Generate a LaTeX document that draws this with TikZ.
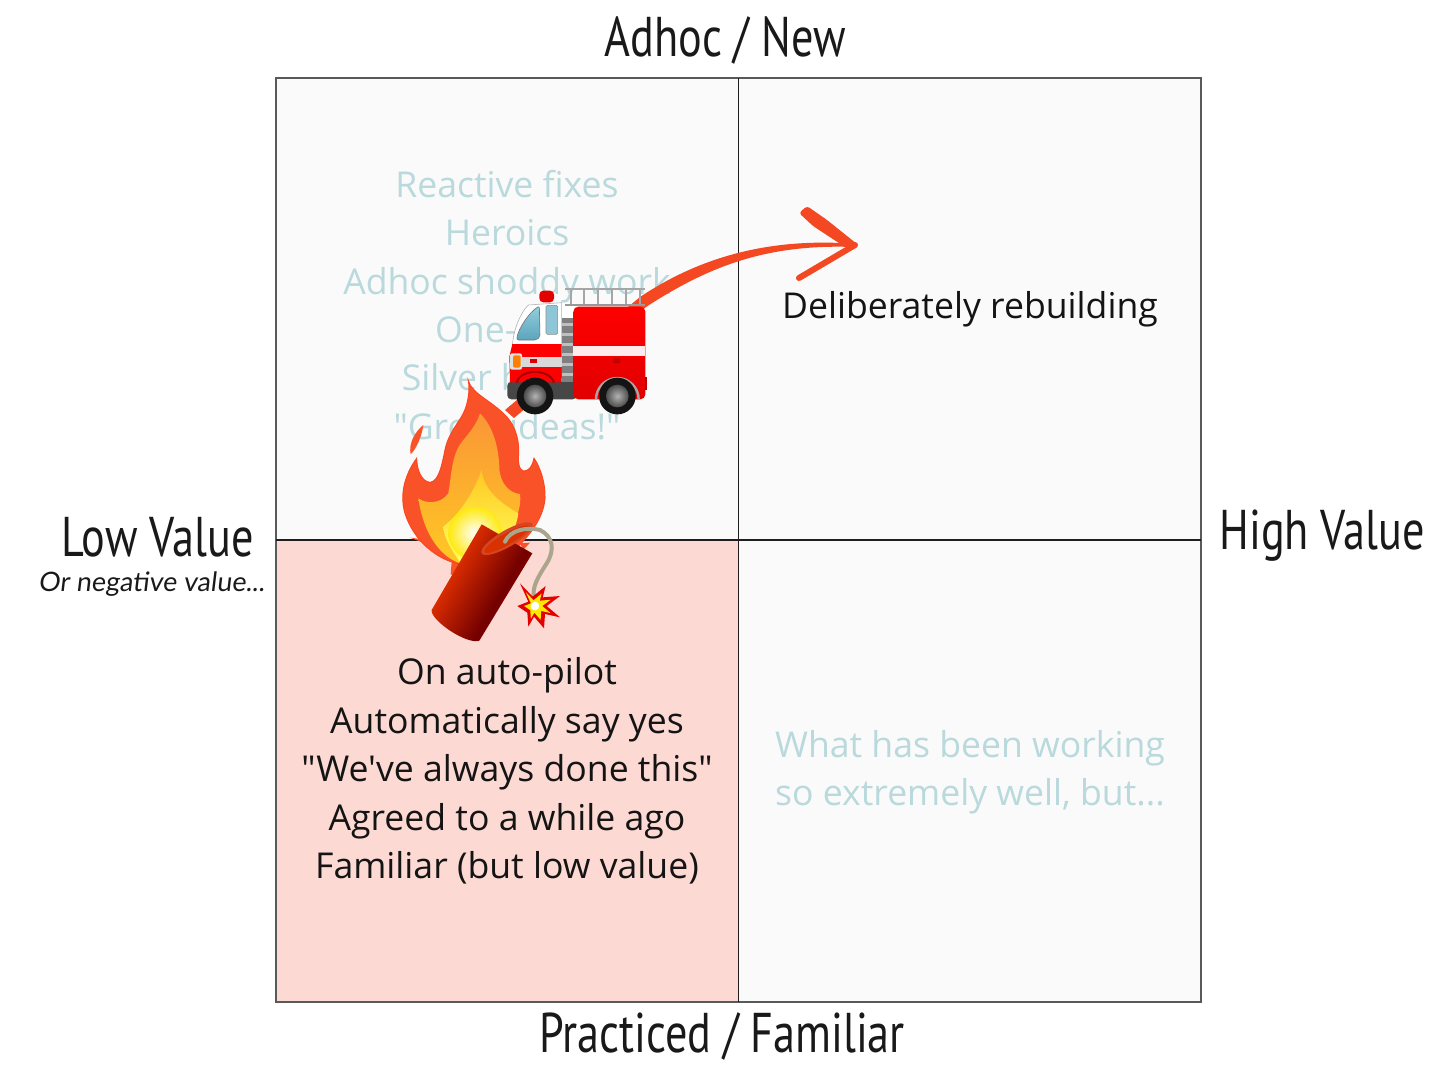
\documentclass[tikz,border=0pt]{standalone}
\usepackage{fontspec}
\usepackage{xcolor}
\setmainfont[Ligatures=TeXOff]{Open Sans}
\newfontfamily\headfont[FakeStretch=0.79]{PT Sans}
\newfontfamily\handfont[FakeSlant=0.12]{Lato}
\definecolor{quadgrey}{RGB}{250,250,250}
\definecolor{quadred}{RGB}{253,217,211}
\definecolor{fadedtext}{RGB}{185,217,221}
\definecolor{gridline}{RGB}{30,30,30}
\definecolor{marker}{RGB}{243,72,34}
\definecolor{truckred}{RGB}{255,0,0}
\definecolor{glasstop}{RGB}{150,205,220}
\definecolor{glasslow}{RGB}{90,165,190}
\definecolor{flameout}{RGB}{250,82,40}
\definecolor{flamemid}{RGB}{250,150,55}
\definecolor{flamein}{RGB}{255,200,35}
\definecolor{fusecord}{RGB}{170,165,140}
\pgfdeclarehorizontalshading{stick}{100bp}{color(0bp)=(red!60!black);color(21bp)=(red!60!black);color(36bp)=(red!60!orange!85!black);color(60bp)=(red!45!black);color(79bp)=(red!75!black);color(100bp)=(red!75!black)}
\tikzset{
  chart/.style={x=0.5pt,y=-0.5pt},
  emoji/.style={x=0.16667pt,y=-0.16667pt},
  heading/.style={font=\headfont\fontsize{28}{32}\selectfont,text=black!90,inner sep=0pt},
  entry/.style={font=\fontsize{17.8}{24.2}\selectfont,align=center},
  faded/.style={entry,text=fadedtext},
  active/.style={entry,text=black!92},
  aside/.style={font=\handfont\fontsize{13.4}{15}\selectfont,text=black!90,inner sep=0pt},
  grid line/.style={draw=gridline,line width=0.7pt},
}
\begin{document}
\begin{tikzpicture}[chart]
\useasboundingbox (0,0) rectangle (1456,1065);
\fill[quadgrey] (276,78) rectangle (1201,1002);
\fill[quadred] (276,540) rectangle (738.5,1002);
\draw[grid line,draw=black!65,line width=0.6pt] (276,78) rectangle (1201,1002);
\draw[grid line] (738.5,78) -- (738.5,1002);
\draw[grid line] (276,540) -- (1201,540);
\node[heading] (top) at (725,40) {Adhoc / New};
\node[heading] (bottom) at (722,1036) {Practiced / Familiar};
\node[heading,anchor=east] (low) at (254,537) {Low Value};
\node[heading,anchor=west] (high) at (1219,536) {High Value};
\node[aside,anchor=east] (negative) at (265,584) {Or negative value...};
\node[faded] (adhoc) at (507,305) {Reactive fixes\\Heroics\\Adhoc shoddy work\\One-offs\\Silver bullets\\"Great ideas!"};
\node[active] (autopilot) at (507,771) {On auto-pilot\\Automatically say yes\\"We've always done this"\\Agreed to a while ago\\Familiar (but low value)};
\node[faded] (working) at (970,772) {What has been working\\so extremely well, but...};
\node[active] (rebuild) at (970,309) {Deliberately rebuilding};
\coordinate (tip) at (857,244);
\fill[marker] (505,410) -- (640,297) .. controls (700,257) and (770,237) .. (tip)
  -- (854,247) .. controls (770,244) and (712,264) .. (646,307) -- (514,418) -- cycle;
\fill[marker,rounded corners=1.5pt] (tip) -- (827,220) -- (807,206) -- (799,213) -- (813,226) -- (845,247) -- cycle;
\draw[marker,line width=3pt,line cap=round] (855,245) -- (799,278);
\begin{scope}[shift={(380,190)},emoji]
  \fill[black!72,rounded corners=2pt] (382,575) rectangle (590,628);
  \fill[white] (540,340) rectangle (585,400);
  \path[top color=truckred,bottom color=red!88!black,rounded corners=2.5pt] (580,350) rectangle (796,628);
  \fill[red!75!black] (795,560) rectangle (801,600);
  \fill[white!92!red] (580,467) rectangle (796,497);
  \fill[red!75!black,rounded corners=0.5pt] (700,505) rectangle (720,520);
  \fill[white,draw=black!30,line width=0.3pt] (397,468) .. controls (400,420) and (420,370) .. (445,345) -- (545,338) -- (545,468) -- cycle;
  \fill[truckred] (397,462) -- (545,462) -- (545,577) -- (390,577) -- (388,500) -- cycle;
  \fill[black!15] (420,500) rectangle (545,532);
  \fill[red!85!black] (450,507) rectangle (472,519);
  \fill[black!12,rounded corners=1pt] (390,490) rectangle (426,539);
  \fill[orange,rounded corners=1pt] (399,496) rectangle (422,533);
  \path[top color=glasstop,bottom color=glasslow,draw=black!55,line width=0.3pt,rounded corners=1pt] (410,450) .. controls (414,415) and (450,365) .. (478,348) -- (480,440) -- (470,450) -- cycle;
  \fill[glasstop!85!glasslow,draw=black!45,line width=0.3pt,rounded corners=0.7pt] (498,346) rectangle (533,433);
  \fill[black!50] (547,385) rectangle (578,575);
  \foreach \y in {398,428,458,488,518,548} {\fill[black!25] (547,\y) rectangle (578,\y+10);}
  \foreach \x in {572,612,655,695,737,780} {\draw[black!35,line width=1pt] (\x,297) -- (\x,345);}
  \draw[black!35,line width=0.7pt] (555,297) -- (796,297);
  \draw[black!40,line width=1pt] (555,345) -- (796,345);
  \fill[red!90!black,rounded corners=2pt] (478,337) -- (478,302) -- (522,302) -- (522,337) -- cycle;
  \draw[red!65!black,line width=1pt] (410,578) .. controls (420,535) and (510,535) .. (522,578);
  \draw[black!35,line width=1.2pt] (648,628) arc[start angle=180,end angle=360,radius=64];
  \foreach \x in {465,712} {
    \fill[black!92] (\x,618) circle[radius=55];
    \path[inner color=black!30,outer color=black!70] (\x,618) circle[radius=34];
  }
\end{scope}
\begin{scope}[shift={(380,370)},emoji]
  \path[fill=flameout] (90,503) -- (130,508) -- (140,522) -- cycle;
  \fill[flameout] (215,575) -- (240,580) -- (228,622) -- (212,612) -- cycle;
  \fill[flameout] (420,520) -- (450,518) -- (430,540) -- cycle;
  \fill[flameout] (130,165) .. controls (125,200) and (110,235) .. (92,253) .. controls (85,220) and (105,185) .. cycle;
  \path[fill=flameout,draw=red!15!flameout,line width=0.5pt] (265,32) .. controls (275,70) and (330,90) .. (375,135) .. controls (410,170) and (420,220) .. (415,265)
    .. controls (415,295) and (425,305) .. (435,303) .. controls (450,300) and (458,285) .. (462,265)
    .. controls (480,290) and (497,340) .. (495,385) .. controls (490,450) and (440,510) .. (380,560) -- (240,582)
    .. controls (170,570) and (100,510) .. (75,430) .. controls (60,380) and (70,320) .. (110,265)
    .. controls (110,300) and (125,335) .. (150,337) .. controls (175,335) and (185,290) .. (195,240)
    .. controls (205,190) and (235,160) .. (250,130) .. controls (265,100) and (270,60) .. (265,32) -- cycle;
  \path[top color=flamemid,bottom color=flamein] (300,130) .. controls (340,170) and (355,230) .. (358,290) .. controls (358,340) and (390,370) .. (420,372)
    .. controls (425,410) and (410,450) .. (370,530) -- (240,580) .. controls (180,560) and (130,490) .. (115,385)
    .. controls (135,400) and (180,405) .. (205,370) .. controls (215,310) and (215,250) .. (250,210)
    .. controls (275,180) and (290,160) .. (300,130) -- cycle;
  \path[top color=flamein,bottom color=yellow!65!white] (305,300) .. controls (310,350) and (345,390) .. (415,430) .. controls (410,470) and (390,510) .. (370,530)
    -- (240,577) .. controls (215,540) and (190,500) .. (190,470) .. controls (240,430) and (280,370) .. (305,300) -- cycle;
  \path[inner color=white,outer color=yellow!60!flamein] (285,490) circle[radius=80];
\end{scope}
\begin{scope}[shift={(380,370)},emoji]
  \path[shading=stick,shading angle=-30]
    (305,463) -- (457,550) -- (298,812) .. controls (260,825) and (150,750) .. (155,720) -- cycle;
  \fill[flameout!85!black,rotate around={30:(381,506)}] (381,506) ellipse (88 and 25);
  \fill[red!55!orange!85!black,rotate around={30:(381,506)}] (379,507) ellipse (76 and 17);
  \draw[fusecord,line width=2pt,line cap=round] (375,515) .. controls (390,480) and (440,470) .. (480,480)
    .. controls (520,500) and (525,540) .. (500,580) .. controls (475,620) and (455,650) .. (462,685);
  \def\sparkpts{(420,640) -- (458,680) -- (497,648) -- (488,682) -- (540,678) -- (500,708) -- (540,742) -- (495,732) -- (492,775) -- (462,740) -- (445,770) -- (442,728) -- (412,708) -- (445,695) -- cycle}
  \fill[red!90!black] \sparkpts;
  \fill[yellow!90!orange,scale around={0.62:(465,708)}] \sparkpts;
  \fill[white] (465,708) circle[radius=13];
\end{scope}
\end{tikzpicture}
\end{document}
